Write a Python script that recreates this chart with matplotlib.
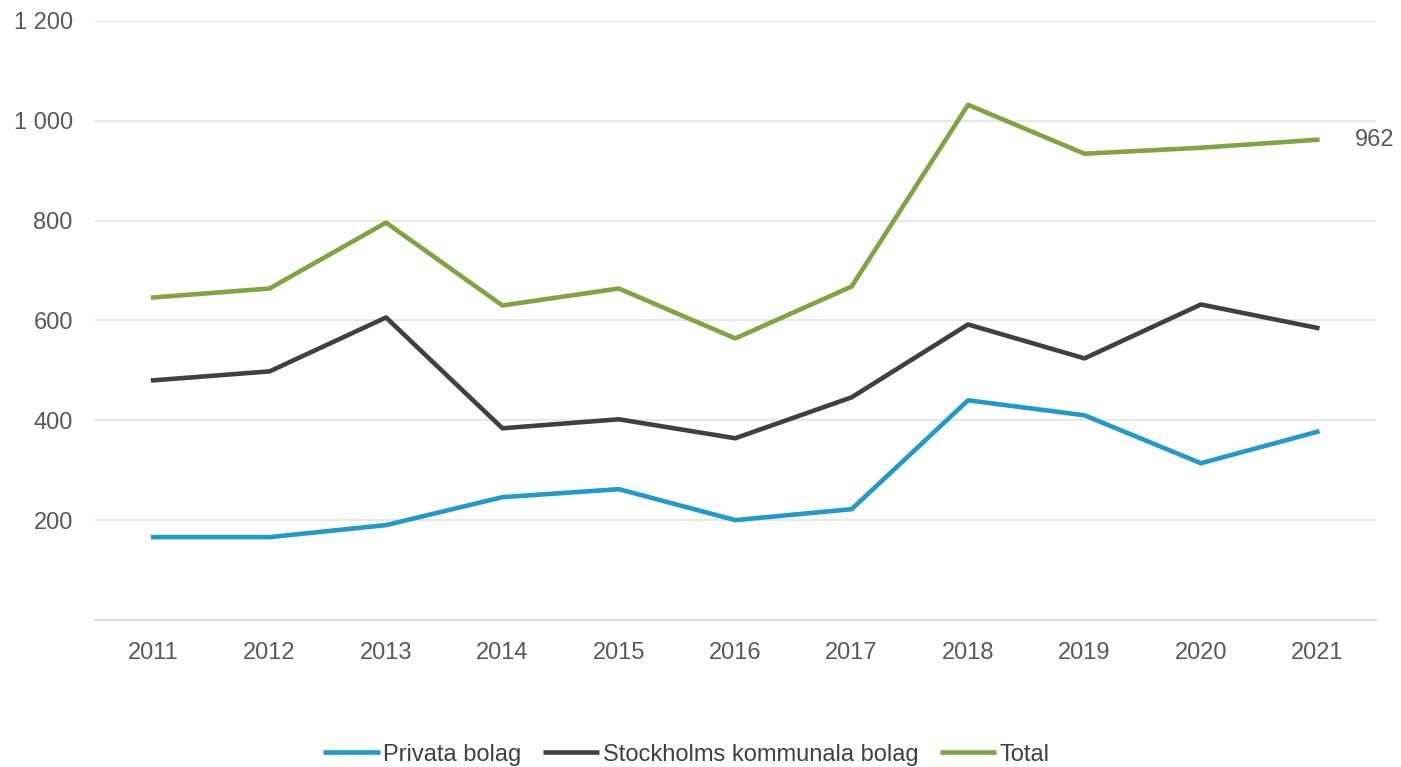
import matplotlib.pyplot as plt

years = [2011, 2012, 2013, 2014, 2015, 2016, 2017, 2018, 2019, 2020, 2021]
privata = [166, 166, 190, 246, 262, 200, 222, 440, 410, 314, 377]
kommunala = [480, 498, 606, 384, 402, 364, 446, 592, 524, 632, 585]
total = [646, 664, 796, 630, 664, 564, 668, 1032, 934, 946, 962]

plt.rcParams['font.family'] = ['Liberation Sans', 'DejaVu Sans']

fig = plt.figure(figsize=(14.01, 7.67), dpi=100)
ax = fig.add_axes([0.0678, 0.1917, 0.914, 0.781])

ax.plot(years, privata, color='#1f9acb', lw=3.3, label='Privata bolag')
ax.plot(years, kommunala, color='#404040', lw=3.3, label='Stockholms kommunala bolag')
ax.plot(years, total, color='#7fa441', lw=3.3, label='Total')

# etikett för sista värdet
ax.annotate(f'{total[-1]}', (years[-1], total[-1]), xytext=(27, 0),
            textcoords='offset points', va='center', ha='left',
            fontsize=17, color='#595959', annotation_clip=False)

ax.set_xlim(2010.5, 2021.5)
ax.set_ylim(0, 1200)
yt = [200, 400, 600, 800, 1000, 1200]
ax.set_yticks(yt)
ax.set_yticklabels([f'{v:,}'.replace(',', ' ') for v in yt])
ax.set_xticks(years)
ax.grid(axis='y', color='#e3e3e3', lw=1.2)
ax.set_axisbelow(True)
for s in ['top', 'right', 'left']:
    ax.spines[s].set_visible(False)
ax.spines['bottom'].set_color('#dcdcdc')
ax.spines['bottom'].set_linewidth(1.2)
ax.tick_params(length=0, labelsize=17, labelcolor='#595959')
ax.tick_params(axis='x', pad=16)
ax.tick_params(axis='y', pad=16)

leg = fig.legend(loc='center', bbox_to_anchor=(0.49, 0.016), ncol=3, frameon=False,
                 fontsize=17, labelcolor='#404040', handlelength=2.4, handletextpad=0.15,
                 columnspacing=0.9)
for h in leg.get_lines():
    h.set_solid_capstyle('butt')

fig.savefig('out.png', dpi=100)
